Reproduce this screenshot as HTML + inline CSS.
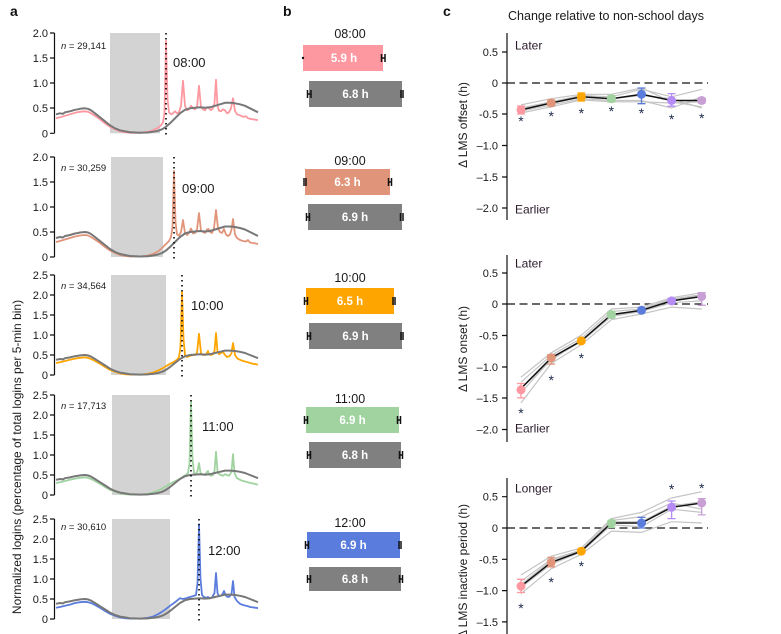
<!DOCTYPE html>
<html><head><meta charset="utf-8"><style>
html,body{margin:0;padding:0;background:#fff;}
svg{display:block;font-family:"Liberation Sans",Arial,sans-serif;}
.t{font-size:11px;fill:#1a1a1a;}
.tc{font-size:11px;fill:#1a1a1a;}
.lab{font-size:14px;font-weight:bold;fill:#111;}
.n{font-size:9.5px;fill:#1a1a1a;}
.tm{font-size:13px;fill:#1a1a1a;}
.bt{font-size:12.5px;fill:#1a1a1a;}
.bv{font-size:11.5px;font-weight:bold;fill:#fff;}
.ax{stroke:#111;stroke-width:1.2;fill:none;}
.gl{fill:none;stroke:#777;stroke-width:2;stroke-linejoin:round;}
.cl{fill:none;stroke-width:1.8;stroke-linejoin:round;}
.dot{stroke:#111;stroke-width:1.7;stroke-dasharray:1.5 3.5;}
.eb{stroke:#111;stroke-width:1.5;fill:none;}
.ig{fill:none;stroke:#c4c4c4;stroke-width:1.2;}
.ml{fill:none;stroke:#111;stroke-width:1.5;}
.st{font-size:14px;fill:#1c2a4a;text-anchor:middle;}
.yl{font-size:12px;fill:#1a1a1a;text-anchor:middle;}
.lt{font-size:12px;fill:#2a1a2a;}
</style></head><body>
<svg width="781" height="634" viewBox="0 0 781 634" xmlns="http://www.w3.org/2000/svg">
<defs>
<polyline id="gray" class="gl" vector-effect="non-scaling-stroke" points="56,-38 60,-40 63,-39 65,-42 70,-44 75,-47 78,-48 80,-49 85,-50 88,-49 91,-46 95,-40 100,-32 105,-24 110,-16 115,-10 120,-6 125,-4 130,-2 140,-1 148,-1.5 153,-3 158,-5 162,-8 166,-13 170,-20 175,-30 180,-40 185,-47 190,-50 195,-51 200,-52 205,-51 210,-52 215,-55 220,-58 225,-61 230,-61 235,-60 240,-58 245,-55 250,-50 255,-45 258,-42"/>
</defs>

<!-- Panel labels -->
<text class="lab" x="10" y="16">a</text>
<text class="lab" x="283" y="16">b</text>
<text class="lab" x="443" y="16">c</text>

<!-- ===== Panel a ===== -->
<text class="yl" transform="translate(21,457) rotate(-90)">Normalized logins (percentage of total logins per 5-min bin)</text>

<!-- Row 1 -->
<rect x="110" y="33" width="50" height="100.3" fill="#d3d3d3"/>
<g transform="translate(0,133.3) scale(1,0.5)">
<polyline class="cl" stroke="#FD98A0" vector-effect="non-scaling-stroke" points="56,-30 60,-32 65,-35 70,-38 75,-41 80,-43 85,-44 88,-43 91,-40 95,-35 100,-28 105,-20 110,-13 115,-8 120,-4 125,-2 130,-1 140,-1 148,-3 153,-6 158,-11 161,-16 163,-22 164.5,-40 166,-185 167.5,-70 169,-42 171,-38 173,-40 175,-44 177,-40 179,-42 181,-55 183,-105 185,-55 187,-46 189,-48 191,-55 193,-50 195,-48 197,-52 199,-95 201,-52 203,-48 205,-46 207,-52 209,-50 211,-46 213,-50 214.5,-60 216,-107 217.5,-55 219,-45 221,-44 223,-48 225,-46 227,-40 229,-42 231,-50 233,-70 235,-45 237,-38 240,-36 243,-33 246,-34 248,-30 250,-29 253,-28 256,-27 258,-26"/>
<use href="#gray"/>
</g>
<line class="dot" x1="166" y1="33" x2="166" y2="137"/>
<path class="ax" d="M54.5,33V133.3M50,33H54.5M50,58H54.5M50,83H54.5M50,108H54.5M50,133.3H54.5"/>
<g class="t" text-anchor="end"><text x="48" y="37">2.0</text><text x="48" y="62">1.5</text><text x="48" y="87">1.0</text><text x="48" y="112">0.5</text><text x="48" y="137.3">0</text></g>
<text class="n" x="61" y="49"><tspan font-style="italic">n</tspan> = 29,141</text>
<text class="tm" x="173" y="67">08:00</text>

<!-- Row 2 -->
<rect x="111" y="157" width="52" height="100" fill="#d3d3d3"/>
<g transform="translate(0,257) scale(1,0.5)">
<polyline class="cl" stroke="#E0957A" vector-effect="non-scaling-stroke" points="56,-30 60,-32 65,-35 70,-38 75,-41 80,-43 85,-44 88,-43 91,-40 95,-35 100,-28 105,-20 110,-13 115,-8 120,-4 125,-2 130,-1 140,-1 148,-3 153,-6 158,-11 162,-18 166,-26 169,-32 171,-40 172.5,-60 174,-172 175.5,-70 177,-45 179,-43 181,-50 183,-74 185,-48 187,-44 189,-48 191,-57 193,-47 195,-48 197,-55 199,-88 201,-52 203,-50 205,-48 207,-55 208.5,-56 210,-50 212,-48 214,-58 216,-94 218,-57 220,-50 222,-48 224,-56 226,-45 228,-42 230,-45 231.5,-55 233,-76 235,-45 237,-38 240,-34 243,-32 246,-31 248,-34 250,-29 253,-28 256,-27 258,-26"/>
<use href="#gray"/>
</g>
<line class="dot" x1="174" y1="157" x2="174" y2="261"/>
<path class="ax" d="M54.5,157V257M50,157H54.5M50,182H54.5M50,207H54.5M50,232H54.5M50,257H54.5"/>
<g class="t" text-anchor="end"><text x="48" y="161">2.0</text><text x="48" y="186">1.5</text><text x="48" y="211">1.0</text><text x="48" y="236">0.5</text><text x="48" y="261">0</text></g>
<text class="n" x="61" y="171"><tspan font-style="italic">n</tspan> = 30,259</text>
<text class="tm" x="182" y="193">09:00</text>

<!-- Row 3 -->
<rect x="111" y="275" width="55" height="100" fill="#d3d3d3"/>
<g transform="translate(0,375) scale(1,0.4)">
<polyline class="cl" stroke="#FFA500" vector-effect="non-scaling-stroke" points="56,-30 60,-32 65,-35 70,-38 75,-41 80,-43 85,-44 88,-43 91,-40 95,-35 100,-28 105,-20 110,-13 115,-8 120,-4 125,-2 130,-1 140,-1 148,-3 153,-6 158,-11 162,-16 166,-22 170,-28 174,-33 177,-38 179,-45 180.5,-70 182,-207 183.5,-90 185,-50 187,-45 190,-48 193,-50 195,-50 197,-55 199,-103 201,-55 203,-50 205,-50 207,-55 208,-60 209,-52 211,-50 213,-52 214.5,-60 216,-105 217.5,-58 219,-52 221,-55 223,-58 225,-50 227,-45 230,-48 231.5,-55 233,-80 235,-50 237,-42 240,-38 243,-35 246,-33 248,-32 250,-30 253,-28 256,-27 258,-26"/>
<use href="#gray"/>
</g>
<line class="dot" x1="182" y1="275" x2="182" y2="380"/>
<path class="ax" d="M54.5,275V375M50,275H54.5M50,295H54.5M50,315H54.5M50,335H54.5M50,355H54.5M50,375H54.5"/>
<g class="t" text-anchor="end"><text x="48" y="279">2.5</text><text x="48" y="299">2.0</text><text x="48" y="319">1.5</text><text x="48" y="339">1.0</text><text x="48" y="359">0.5</text><text x="48" y="379">0</text></g>
<text class="n" x="61" y="289"><tspan font-style="italic">n</tspan> = 34,564</text>
<text class="tm" x="191" y="310">10:00</text>

<!-- Row 4 -->
<rect x="112" y="395" width="58" height="100" fill="#d3d3d3"/>
<g transform="translate(0,495) scale(1,0.4)">
<polyline class="cl" stroke="#A0D3A0" vector-effect="non-scaling-stroke" points="56,-30 60,-32 65,-35 70,-38 75,-41 80,-43 85,-44 88,-43 91,-40 95,-35 100,-28 105,-20 110,-13 115,-8 120,-4 125,-2 130,-1 140,-1 148,-3 153,-6 158,-11 162,-16 166,-22 170,-28 174,-33 178,-38 181,-42 184,-48 186,-50 188,-55 189.5,-80 191,-235 192.5,-90 194,-55 196,-52 197.5,-60 199,-80 200.5,-55 202,-52 205,-50 207,-58 208,-60 209,-52 211,-48 213,-50 214.5,-60 216,-108 217.5,-60 219,-52 221,-50 223,-48 225,-52 227,-50 229,-48 231.5,-58 233,-102 234.5,-55 237,-42 240,-38 243,-35 246,-33 248,-32 250,-30 253,-29 256,-27 258,-26"/>
<use href="#gray"/>
</g>
<line class="dot" x1="191" y1="395" x2="191" y2="499"/>
<path class="ax" d="M54.5,395V495M50,395H54.5M50,415H54.5M50,435H54.5M50,455H54.5M50,475H54.5M50,495H54.5"/>
<g class="t" text-anchor="end"><text x="48" y="399">2.5</text><text x="48" y="419">2.0</text><text x="48" y="439">1.5</text><text x="48" y="459">1.0</text><text x="48" y="479">0.5</text><text x="48" y="499">0</text></g>
<text class="n" x="61" y="409"><tspan font-style="italic">n</tspan> = 17,713</text>
<text class="tm" x="202" y="431">11:00</text>

<!-- Row 5 -->
<rect x="112" y="519" width="58" height="100" fill="#d3d3d3"/>
<g transform="translate(0,619) scale(1,0.4)">
<polyline class="cl" stroke="#5A7CDD" vector-effect="non-scaling-stroke" points="56,-28 60,-30 65,-33 70,-36 75,-40 80,-42 85,-43 88,-42 91,-40 95,-35 100,-28 105,-20 110,-13 115,-8 120,-4 125,-2 130,-1 140,-1 148,-3 153,-6 158,-12 162,-18 166,-25 170,-33 174,-40 178,-48 180,-52 183,-50 186,-52 190,-55 194,-58 196,-60 197.5,-90 199,-237 200.5,-100 202,-60 204,-55 206,-53 208,-55 210,-52 212,-54 214.5,-65 216,-115 217.5,-65 219,-57 221,-58 222.5,-62 224,-70 225.5,-60 227,-56 229,-55 231.5,-62 233,-95 234.5,-55 237,-45 240,-38 243,-35 246,-33 248,-32 250,-30 253,-29 256,-28 258,-27"/>
<use href="#gray"/>
</g>
<line class="dot" x1="199" y1="519" x2="199" y2="623"/>
<path class="ax" d="M54.5,519V619M50,519H54.5M50,539H54.5M50,559H54.5M50,579H54.5M50,599H54.5M50,619H54.5"/>
<g class="t" text-anchor="end"><text x="48" y="523">2.5</text><text x="48" y="543">2.0</text><text x="48" y="563">1.5</text><text x="48" y="583">1.0</text><text x="48" y="603">0.5</text><text x="48" y="623">0</text></g>
<text class="n" x="61" y="530"><tspan font-style="italic">n</tspan> = 30,610</text>
<text class="tm" x="208" y="555">12:00</text>

<!-- ===== Panel b ===== -->
<g text-anchor="middle">
<text class="bt" x="350" y="38">08:00</text>
<rect x="303" y="45" width="80" height="26" fill="#FD98A0"/>
<text class="bv" x="344" y="62">5.9 h</text>
<rect x="309" y="81" width="93" height="26" fill="#808080"/>
<text class="bv" x="355.5" y="98">6.8 h</text>

<text class="bt" x="350" y="165">09:00</text>
<rect x="305" y="169" width="85" height="26" fill="#E0957A"/>
<text class="bv" x="347.5" y="186">6.3 h</text>
<rect x="308" y="204" width="94" height="26" fill="#808080"/>
<text class="bv" x="355" y="221">6.9 h</text>

<text class="bt" x="350" y="282">10:00</text>
<rect x="306" y="288" width="88" height="26" fill="#FFA500"/>
<text class="bv" x="350" y="305">6.5 h</text>
<rect x="309" y="323" width="93" height="26" fill="#808080"/>
<text class="bv" x="355.5" y="340">6.9 h</text>

<text class="bt" x="350" y="403">11:00</text>
<rect x="306" y="407" width="93" height="26" fill="#A0D3A0"/>
<text class="bv" x="352.5" y="424">6.9 h</text>
<rect x="309" y="442" width="92" height="26" fill="#808080"/>
<text class="bv" x="355" y="459">6.8 h</text>

<text class="bt" x="350" y="527">12:00</text>
<rect x="307" y="532" width="93" height="26" fill="#5A7CDD"/>
<text class="bv" x="353.5" y="549">6.9 h</text>
<rect x="309" y="567" width="92" height="24" fill="#808080"/>
<text class="bv" x="355" y="583">6.8 h</text>
</g>
<!-- error bars -->
<g class="eb">
<circle cx="303" cy="58" r="1.2" fill="#111" stroke="none"/>
<path d="M381.5,54v8M385,54v8M381.5,58h3.5"/>
<path d="M307.5,90v8M311,90v8M307.5,94h3.5"/>
<path d="M401,90v8M403,90v8"/>
<path d="M304,178v8M306,178v8"/>
<path d="M388.5,178v8M391.5,178v8M388.5,182h3"/>
<path d="M306.5,213v8M309.5,213v8M306.5,217h3"/>
<path d="M400.5,213v8M403,213v8"/>
<path d="M304.5,297v8M307.5,297v8M304.5,301h3"/>
<path d="M393,297v8M395,297v8"/>
<path d="M307.5,332v8M310.5,332v8M307.5,336h3"/>
<path d="M401,332v8M403,332v8"/>
<path d="M304.5,416v8M307.5,416v8M304.5,420h3"/>
<path d="M397.5,416v8M400.5,416v8M397.5,420h3"/>
<path d="M307.5,451v8M310.5,451v8M307.5,455h3"/>
<path d="M399.5,451v8M402.5,451v8M399.5,455h3"/>
<path d="M305.5,541v8M308.5,541v8M305.5,545h3"/>
<path d="M399,541v8M401,541v8"/>
<path d="M307.5,575v8M310.5,575v8M307.5,579h3"/>
<path d="M399.5,575v8M402.5,575v8M399.5,579h3"/>
</g>

<!-- ===== Panel c ===== -->
<text x="606" y="20" text-anchor="middle" style="font-size:12.5px;fill:#1a1a1a">Change relative to non-school days</text>

<!-- c top: offset ; y = 83 - v*62.6 -->
<text class="yl" transform="translate(467,125) rotate(-90)">Δ LMS offset (h)</text>
<path class="ax" d="M507,33V220M502,52H507M502,83H507M502,114H507M502,145.5H507M502,177H507M502,208H507"/>
<g class="tc" text-anchor="end"><text x="498" y="56">0.5</text><text x="498" y="87">0</text><text x="498" y="118">-0.5</text><text x="498" y="149.5">–1.0</text><text x="498" y="181">–1.5</text><text x="498" y="212">–2.0</text></g>
<line x1="507" y1="83" x2="708" y2="83" stroke="#111" stroke-width="1.3" stroke-dasharray="8 4.5"/>
<text class="lt" x="515" y="49.5">Later</text>
<text class="lt" x="515" y="213.5">Earlier</text>
<g>
<polyline class="ig" points="521,104.9 551.2,98.7 581.3,94.3 611.4,94.3 641.5,88 671.6,101.8 701.7,106.8"/>
<polyline class="ig" points="521,108 551.2,101.8 581.3,95.5 611.4,96.8 641.5,89.3 671.6,96.8 701.7,89.3"/>
<polyline class="ig" points="521,111.2 551.2,104.9 581.3,98.7 611.4,100.5 641.5,100.5 671.6,108 701.7,96.8"/>
<polyline class="ig" points="521,113 551.2,106.8 581.3,99.9 611.4,101.8 641.5,101.8 671.6,103 701.7,101.8"/>
<polyline class="ig" points="521,109.3 551.2,101.8 581.3,95.5 611.4,98.7 641.5,95.5 671.6,98.7 701.7,108"/>
<polyline class="ml" points="521,109.9 551.2,103 581.3,96.8 611.4,98.7 641.5,94.3 671.6,100.5 701.7,100.5"/>
</g>
<g stroke-width="1.3" fill="none">
<path stroke="#FD98A0" d="M521,106v8M517,106h8M517,114h8"/>
<path stroke="#E0957A" d="M551.2,100v6M547.2,100h8M547.2,106h8"/>
<path stroke="#FFA500" d="M581.3,93v8M577.3,93h8M577.3,101h8"/>
<path stroke="#A0D3A0" d="M611.4,95.5v6.5M607.4,95.5h8M607.4,102h8"/>
<path stroke="#5A7CDD" d="M641.5,88v15.7M637.5,88h8M637.5,103.7h8"/>
<path stroke="#B58CF5" d="M671.6,93.6v12.6M667.6,93.6h8M667.6,106.2h8"/>
<path stroke="#C9A0D6" d="M701.7,98v5M697.7,98h8M697.7,103h8"/>
</g>
<circle cx="521" cy="109.9" r="4.5" fill="#FD98A0"/>
<circle cx="551.2" cy="103" r="4.5" fill="#E0957A"/>
<circle cx="581.3" cy="96.8" r="4.5" fill="#FFA500"/>
<circle cx="611.4" cy="98.7" r="4.5" fill="#A0D3A0"/>
<circle cx="641.5" cy="94.3" r="4.5" fill="#5A7CDD"/>
<circle cx="671.6" cy="100.5" r="4.5" fill="#B58CF5"/>
<circle cx="701.7" cy="100.5" r="4.5" fill="#C9A0D6"/>
<g class="st"><text x="521" y="126">*</text><text x="551.2" y="121">*</text><text x="581.3" y="118">*</text><text x="611.4" y="116">*</text><text x="641.5" y="118">*</text><text x="671.6" y="124">*</text><text x="701.7" y="123">*</text></g>

<!-- c middle: onset ; y = 304 - v*62.6 -->
<text class="yl" transform="translate(467,349) rotate(-90)">Δ LMS onset (h)</text>
<path class="ax" d="M507,255V442M502,273H507M502,304H507M502,335.5H507M502,367H507M502,398H507M502,429.5H507"/>
<g class="tc" text-anchor="end"><text x="498" y="277">0.5</text><text x="498" y="308">0</text><text x="498" y="339.5">-0.5</text><text x="498" y="371">–1.0</text><text x="498" y="402">–1.5</text><text x="498" y="433.5">–2.0</text></g>
<line x1="507" y1="304" x2="708" y2="304" stroke="#111" stroke-width="1.3" stroke-dasharray="8 4.5"/>
<text class="lt" x="515" y="267.5">Later</text>
<text class="lt" x="515" y="432.5">Earlier</text>
<g>
<polyline class="ig" points="521,377.2 551.2,352.8 581.3,335.3 611.4,309 641.5,307.1 671.6,297.7 701.7,292.7"/>
<polyline class="ig" points="521,382.3 551.2,355.3 581.3,338.4 611.4,311.5 641.5,309 671.6,299 701.7,294.6"/>
<polyline class="ig" points="521,392.9 551.2,359.1 581.3,341.6 611.4,316.5 641.5,311.5 671.6,302.7 701.7,300.9"/>
<polyline class="ig" points="521,402.9 551.2,363.5 581.3,344.7 611.4,319.7 641.5,314 671.6,307.1 701.7,309"/>
<polyline class="ig" points="521,388.5 551.2,360.3 581.3,340.3 611.4,315.3 641.5,310.3 671.6,300.2 701.7,295.2"/>
<polyline class="ml" points="521,388.5 551.2,357.8 581.3,340.9 611.4,314.6 641.5,310.3 671.6,300.9 701.7,296.5"/>
</g>
<g stroke-width="1.3" fill="none">
<path stroke="#FD98A0" d="M521,383.5v14.4M517,383.5h8M517,397.9h8"/>
<path stroke="#E0957A" d="M551.2,354.7v9.4M547.2,354.7h8M547.2,364.1h8"/>
<path stroke="#FFA500" d="M581.3,339v4M577.3,339h8M577.3,343h8"/>
<path stroke="#A0D3A0" d="M611.4,311.5v6.3M607.4,311.5h8M607.4,317.8h8"/>
<path stroke="#5A7CDD" d="M641.5,308.4v3.8M637.5,308.4h8M637.5,312.2h8"/>
<path stroke="#B58CF5" d="M671.6,298.4v4.4M667.6,298.4h8M667.6,302.8h8"/>
<path stroke="#C9A0D6" d="M701.7,292.7v12.6M697.7,292.7h8M697.7,305.3h8"/>
</g>
<circle cx="521" cy="389.8" r="4.5" fill="#FD98A0"/>
<circle cx="551.2" cy="357.8" r="4.5" fill="#E0957A"/>
<circle cx="581.3" cy="340.9" r="4.5" fill="#FFA500"/>
<circle cx="611.4" cy="314.6" r="4.5" fill="#A0D3A0"/>
<circle cx="641.5" cy="310.3" r="4.5" fill="#5A7CDD"/>
<circle cx="671.6" cy="300.9" r="4.5" fill="#B58CF5"/>
<circle cx="701.7" cy="296.5" r="4.5" fill="#C9A0D6"/>
<g class="st"><text x="521" y="418">*</text><text x="551.2" y="385">*</text><text x="581.3" y="363">*</text></g>

<!-- c bottom: inactive ; y = 528 - v*62.6 -->
<text class="yl" transform="translate(467,571) rotate(-90)">Δ LMS inactive period (h)</text>
<path class="ax" d="M507,478V634M502,496.7H507M502,528H507M502,559.3H507M502,590.6H507M502,621.9H507"/>
<g class="tc" text-anchor="end"><text x="498" y="500.7">0.5</text><text x="498" y="532">0</text><text x="498" y="563.3">-0.5</text><text x="498" y="594.6">–1.0</text><text x="498" y="625.9">–1.5</text></g>
<line x1="507" y1="528" x2="708" y2="528" stroke="#111" stroke-width="1.3" stroke-dasharray="8 4.5"/>
<text class="lt" x="515" y="492.5">Longer</text>
<g>
<polyline class="ig" points="521,575 551.2,556.2 581.3,548 611.4,518.6 641.5,512.4 671.6,498 701.7,491.7"/>
<polyline class="ig" points="521,581.2 551.2,559.3 581.3,549.9 611.4,520.5 641.5,516.7 671.6,503 701.7,509.2"/>
<polyline class="ig" points="521,587.5 551.2,564.3 581.3,551.8 611.4,524.9 641.5,526.7 671.6,509.2 701.7,512.4"/>
<polyline class="ig" points="521,593.7 551.2,568.7 581.3,554.3 611.4,531.1 641.5,532.4 671.6,521.7 701.7,523"/>
<polyline class="ig" points="521,584.3 551.2,560.6 581.3,550.5 611.4,521.7 641.5,521.7 671.6,506.1 701.7,501.7"/>
<polyline class="ml" points="521,586.2 551.2,562.4 581.3,551.2 611.4,523 641.5,523 671.6,507.3 701.7,503"/>
</g>
<g stroke-width="1.3" fill="none">
<path stroke="#FD98A0" d="M521,579.3v13.2M517,579.3h8M517,592.5h8"/>
<path stroke="#E0957A" d="M551.2,557.4v9.4M547.2,557.4h8M547.2,566.8h8"/>
<path stroke="#FFA500" d="M581.3,549.5v3.5M577.3,549.5h8M577.3,553h8"/>
<path stroke="#A0D3A0" d="M611.4,520.5v6.9M607.4,520.5h8M607.4,527.4h8"/>
<path stroke="#5A7CDD" d="M641.5,517.4v10.6M637.5,517.4h8M637.5,528h8"/>
<path stroke="#B58CF5" d="M671.6,501v17.6M667.6,501h8M667.6,518.6h8"/>
<path stroke="#C9A0D6" d="M701.7,498.6v16.3M697.7,498.6h8M697.7,514.9h8"/>
</g>
<circle cx="521" cy="586.2" r="4.5" fill="#FD98A0"/>
<circle cx="551.2" cy="562.4" r="4.5" fill="#E0957A"/>
<circle cx="581.3" cy="551.2" r="4.5" fill="#FFA500"/>
<circle cx="611.4" cy="523" r="4.5" fill="#A0D3A0"/>
<circle cx="641.5" cy="523" r="4.5" fill="#5A7CDD"/>
<circle cx="671.6" cy="507.3" r="4.5" fill="#B58CF5"/>
<circle cx="701.7" cy="503" r="4.5" fill="#C9A0D6"/>
<g class="st"><text x="521" y="613">*</text><text x="551.2" y="587">*</text><text x="581.3" y="571">*</text><text x="671.6" y="494">*</text><text x="701.7" y="493">*</text></g>
</svg>
</body></html>
